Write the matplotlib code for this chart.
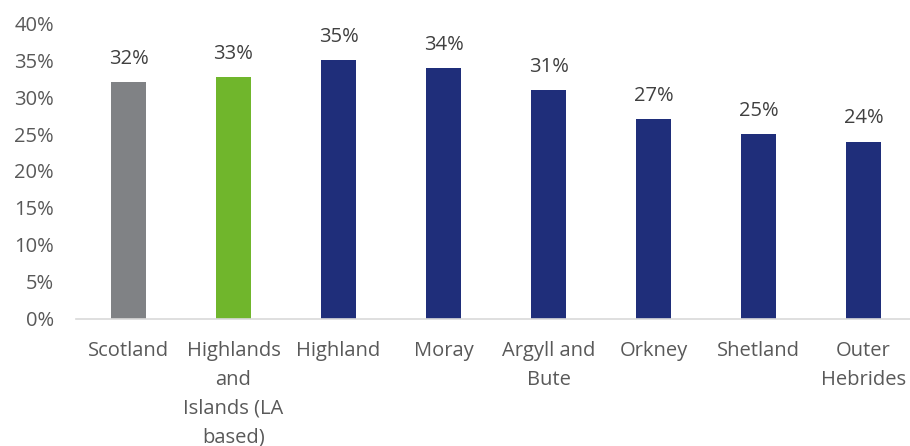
import matplotlib
matplotlib.use("Agg")
import matplotlib.pyplot as plt
from matplotlib.ticker import FuncFormatter

categories = ["Scotland", "Highlands\nand\nIslands (LA\nbased)", "Highland", "Moray",
              "Argyll and\nBute", "Orkney", "Shetland", "Outer\nHebrides"]
values = [32.1, 32.7, 35.0, 34.0, 31.0, 27.0, 25.0, 24.0]
labels = ["32%", "33%", "35%", "34%", "31%", "27%", "25%", "24%"]
colors = ["#808285", "#70B62C", "#1F2E7A", "#1F2E7A", "#1F2E7A", "#1F2E7A", "#1F2E7A", "#1F2E7A"]
yticks = [0, 5, 10, 15, 20, 25, 30, 35, 40]

plt.rcParams['font.family'] = ['Open Sans', 'DejaVu Sans']
text_color = "#595959"

W, H = 910, 446
fig = plt.figure(figsize=(W / 100, H / 100), dpi=100)
left = 76 / W
right = 916 / W
bottom = (H - 318.5) / H
top = (H - 23.5) / H
ax = fig.add_axes([left, bottom, right - left, top - bottom])

x = list(range(len(categories)))
ax.bar(x, values, width=0.333, color=colors, zorder=2)
for xi, v, lab in zip(x, values, labels):
    ax.annotate(lab, (xi, v), xytext=(0, 9.5), textcoords="offset points",
                ha="center", va="bottom", fontsize=14.5, color="#404040")

ax.set_xlim(-0.5, len(categories) - 0.5)
ax.set_ylim(0, 40)
ax.set_yticks(yticks)
ax.yaxis.set_major_formatter(FuncFormatter(lambda v, p: f"{v:.0f}%"))
ax.set_xticks(x)
ax.set_xticklabels(categories, linespacing=1.6)
ax.tick_params(axis="y", length=0, pad=16, labelsize=14.5, labelcolor=text_color)
ax.tick_params(axis="x", length=0, pad=16, labelsize=14.5, labelcolor=text_color)
for s in ["top", "right", "left"]:
    ax.spines[s].set_visible(False)
ax.spines["bottom"].set_color("#D9D9D9")
ax.spines["bottom"].set_linewidth(1.2)

fig.savefig("out.png", dpi=100)
